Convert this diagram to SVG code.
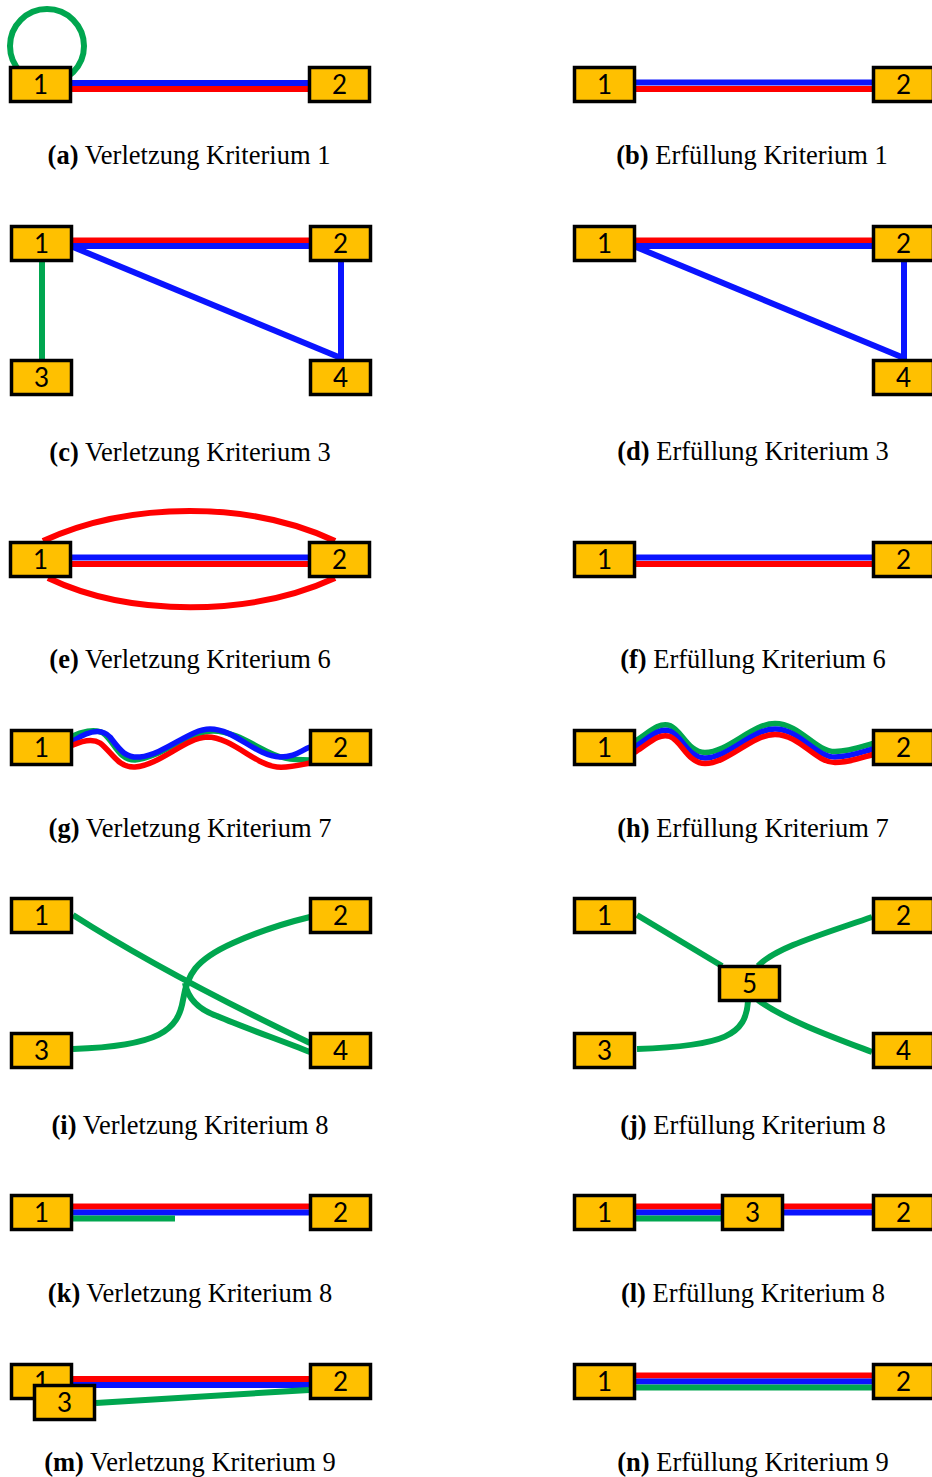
<svg xmlns="http://www.w3.org/2000/svg" width="932" height="1477" viewBox="0 0 932 1477">
  <style>
    .node rect { fill: #FFC000; stroke: #000; stroke-width: 3.5; }
    .node text { font-family: Lato, "Open Sans", sans-serif; font-size: 26px; text-anchor: middle; fill: #000; }
    .e { fill: none; stroke-width: 6; }
    .r { stroke: #FF0000; }
    .b { stroke: #0A14FF; }
    .g { stroke: #00A64F; }
    .w { stroke-width: 5.5; stroke-linecap: round; }
    .cap { font-family: "Liberation Serif", "Times New Roman", serif; font-size: 26.5px; text-anchor: middle; fill: #000; }
    .cap tspan { font-weight: bold; }
  </style>
  <rect width="932" height="1477" fill="#fff"/>

  <!-- connectors -->
  <g id="connectors">
    <!-- (a) -->
    <circle class="e g" cx="47" cy="46" r="37" stroke-width="4.5"/>
    <line class="e b" x1="72" y1="83" x2="308" y2="83"/>
    <line class="e r" x1="72" y1="89" x2="308" y2="89"/>
    <!-- (b) -->
    <line class="e b" x1="636" y1="82.5" x2="872" y2="82.5"/>
    <line class="e r" x1="636" y1="89" x2="872" y2="89"/>
    <!-- (c) -->
    <line class="e r" x1="73" y1="240.5" x2="309" y2="240.5"/>
    <line class="e b" x1="73" y1="246" x2="309" y2="246"/>
    <line class="e b" x1="73" y1="247" x2="341" y2="358" stroke-width="5"/>
    <line class="e b" x1="341" y1="262" x2="341" y2="359" stroke-width="5"/>
    <line class="e g" x1="42" y1="262" x2="42" y2="359" stroke-width="5"/>
    <!-- (d) -->
    <line class="e r" x1="636" y1="240.5" x2="872" y2="240.5"/>
    <line class="e b" x1="636" y1="246" x2="872" y2="246"/>
    <line class="e b" x1="636" y1="247" x2="904" y2="358" stroke-width="5"/>
    <line class="e b" x1="904" y1="262" x2="904" y2="359" stroke-width="5"/>
    <!-- (e) -->
    <line class="e b" x1="72" y1="557.5" x2="308" y2="557.5"/>
    <line class="e r" x1="72" y1="564" x2="308" y2="564"/>
    <path class="e r" d="M43,541 C130,501 250,501 335,541" stroke-width="5.5"/>
    <path class="e r" d="M48,578 C130,617 250,617 335,578" stroke-width="5.5"/>
    <!-- (f) -->
    <line class="e b" x1="636" y1="557.5" x2="872" y2="557.5"/>
    <line class="e r" x1="636" y1="564" x2="872" y2="564"/>
    <!-- (g) -->
    <path class="e g w" d="M73,736 C80,732 95,728 103,733 C115,742 118,760 135,760 C160,758 190,731 213,731 C240,731 265,755 285,758 C295,760 303,760 310,760"/>
    <path class="e b w" d="M73,741 C85,733 100,726 110,737 C120,750 125,758 140,757 C165,754 190,729 210,729 C235,729 255,756 280,757 C295,757 300,751 310,747"/>
    <path class="e r w" d="M73,745 C82,741 92,738 100,743 C112,752 118,768 135,767 C160,765 185,738 207,737 C232,737 255,765 277,767 C290,768 300,765 310,763"/>
    <!-- (h): three parallel copies of one wave -->
    <g transform="translate(0,-5.5)">
      <path class="e g w" d="M636,746 C648,739 658,727 670,731 C682,736 688,758 705,758 C728,758 752,729 775,729 C800,729 815,757 835,757 C850,757 862,752 873,749"/>
    </g>
    <path class="e b w" d="M636,746 C648,739 658,727 670,731 C682,736 688,758 705,758 C728,758 752,729 775,729 C800,729 815,757 835,757 C850,757 862,752 873,749"/>
    <g transform="translate(0,5.5)">
      <path class="e r w" d="M636,746 C648,739 658,727 670,731 C682,736 688,758 705,758 C728,758 752,729 775,729 C800,729 815,757 835,757 C850,757 862,752 873,749"/>
    </g>
    <!-- (i) -->
    <path class="e g" stroke-width="5" d="M73,915 C140,958 220,1000 310,1043"/>
    <path class="e g" stroke-width="5" d="M73,1049 C160,1046 178,1030 183,1000 C187,975 195,960 233,943 C260,931 285,923 310,917"/>
    <path class="e g" stroke-width="5" d="M185,983 C188,1000 200,1010 217,1016 C245,1028 280,1040 310,1052"/>
    <!-- (j) -->
    <path class="e g" stroke-width="5" d="M637,915 L722,966"/>
    <path class="e g" stroke-width="5" d="M872,917 C820,935 775,948 758,966"/>
    <path class="e g" stroke-width="5" d="M637,1049 C725,1046 746,1035 748,1001"/>
    <path class="e g" stroke-width="5" d="M758,1000 C785,1020 835,1038 872,1052"/>
    <!-- (k) -->
    <line class="e r" x1="73" y1="1206.5" x2="309" y2="1206.5"/>
    <line class="e b" x1="73" y1="1212.5" x2="309" y2="1212.5"/>
    <line class="e g" x1="73" y1="1218.5" x2="175" y2="1218.5"/>
    <!-- (l) -->
    <line class="e r" x1="636" y1="1206.5" x2="872" y2="1206.5"/>
    <line class="e b" x1="636" y1="1212.5" x2="872" y2="1212.5"/>
    <line class="e g" x1="636" y1="1218.5" x2="721" y2="1218.5"/>
    <!-- (m) -->
    <line class="e r" x1="73" y1="1379" x2="309" y2="1379"/>
    <line class="e b" x1="73" y1="1385" x2="309" y2="1385"/>
    <line class="e g" x1="96" y1="1403" x2="309" y2="1390" stroke-width="5"/>
    <!-- (n) -->
    <line class="e r" x1="636" y1="1375.5" x2="872" y2="1375.5"/>
    <line class="e b" x1="636" y1="1381.5" x2="872" y2="1381.5"/>
    <line class="e g" x1="636" y1="1387.5" x2="872" y2="1387.5"/>
  </g>

  <!-- (a) -->
  <g id="a-n1" class="node" transform="translate(9,66)"><rect x="1.5" y="1.5" width="60" height="34"/><text x="31.5" y="28">1</text></g>
  <g id="a-n2" class="node" transform="translate(308,66)"><rect x="1.5" y="1.5" width="60" height="34"/><text x="31.5" y="28">2</text></g>
  <!-- (b) -->
  <g id="b-n1" class="node" transform="translate(573,66)"><rect x="1.5" y="1.5" width="60" height="34"/><text x="31.5" y="28">1</text></g>
  <g id="b-n2" class="node" transform="translate(872,66)"><rect x="1.5" y="1.5" width="60" height="34"/><text x="31.5" y="28">2</text></g>
  <!-- (c) -->
  <g id="c-n1" class="node" transform="translate(10,225)"><rect x="1.5" y="1.5" width="60" height="34"/><text x="31.5" y="28">1</text></g>
  <g id="c-n2" class="node" transform="translate(309,225)"><rect x="1.5" y="1.5" width="60" height="34"/><text x="31.5" y="28">2</text></g>
  <g id="c-n3" class="node" transform="translate(10,359)"><rect x="1.5" y="1.5" width="60" height="34"/><text x="31.5" y="28">3</text></g>
  <g id="c-n4" class="node" transform="translate(309,359)"><rect x="1.5" y="1.5" width="60" height="34"/><text x="31.5" y="28">4</text></g>
  <!-- (d) -->
  <g id="d-n1" class="node" transform="translate(573,225)"><rect x="1.5" y="1.5" width="60" height="34"/><text x="31.5" y="28">1</text></g>
  <g id="d-n2" class="node" transform="translate(872,225)"><rect x="1.5" y="1.5" width="60" height="34"/><text x="31.5" y="28">2</text></g>
  <g id="d-n4" class="node" transform="translate(872,359)"><rect x="1.5" y="1.5" width="60" height="34"/><text x="31.5" y="28">4</text></g>
  <!-- (e) -->
  <g id="e-n1" class="node" transform="translate(9,541)"><rect x="1.5" y="1.5" width="60" height="34"/><text x="31.5" y="28">1</text></g>
  <g id="e-n2" class="node" transform="translate(308,541)"><rect x="1.5" y="1.5" width="60" height="34"/><text x="31.5" y="28">2</text></g>
  <!-- (f) -->
  <g id="f-n1" class="node" transform="translate(573,541)"><rect x="1.5" y="1.5" width="60" height="34"/><text x="31.5" y="28">1</text></g>
  <g id="f-n2" class="node" transform="translate(872,541)"><rect x="1.5" y="1.5" width="60" height="34"/><text x="31.5" y="28">2</text></g>
  <!-- (g) -->
  <g id="g-n1" class="node" transform="translate(10,729)"><rect x="1.5" y="1.5" width="60" height="34"/><text x="31.5" y="28">1</text></g>
  <g id="g-n2" class="node" transform="translate(309,729)"><rect x="1.5" y="1.5" width="60" height="34"/><text x="31.5" y="28">2</text></g>
  <!-- (h) -->
  <g id="h-n1" class="node" transform="translate(573,729)"><rect x="1.5" y="1.5" width="60" height="34"/><text x="31.5" y="28">1</text></g>
  <g id="h-n2" class="node" transform="translate(872,729)"><rect x="1.5" y="1.5" width="60" height="34"/><text x="31.5" y="28">2</text></g>
  <!-- (i) -->
  <g id="i-n1" class="node" transform="translate(10,897)"><rect x="1.5" y="1.5" width="60" height="34"/><text x="31.5" y="28">1</text></g>
  <g id="i-n2" class="node" transform="translate(309,897)"><rect x="1.5" y="1.5" width="60" height="34"/><text x="31.5" y="28">2</text></g>
  <g id="i-n3" class="node" transform="translate(10,1032)"><rect x="1.5" y="1.5" width="60" height="34"/><text x="31.5" y="28">3</text></g>
  <g id="i-n4" class="node" transform="translate(309,1032)"><rect x="1.5" y="1.5" width="60" height="34"/><text x="31.5" y="28">4</text></g>
  <!-- (j) -->
  <g id="j-n1" class="node" transform="translate(573,897)"><rect x="1.5" y="1.5" width="60" height="34"/><text x="31.5" y="28">1</text></g>
  <g id="j-n2" class="node" transform="translate(872,897)"><rect x="1.5" y="1.5" width="60" height="34"/><text x="31.5" y="28">2</text></g>
  <g id="j-n3" class="node" transform="translate(573,1032)"><rect x="1.5" y="1.5" width="60" height="34"/><text x="31.5" y="28">3</text></g>
  <g id="j-n4" class="node" transform="translate(872,1032)"><rect x="1.5" y="1.5" width="60" height="34"/><text x="31.5" y="28">4</text></g>
  <g id="j-n5" class="node" transform="translate(718,965)"><rect x="1.5" y="1.5" width="60" height="34"/><text x="31.5" y="28">5</text></g>
  <!-- (k) -->
  <g id="k-n1" class="node" transform="translate(10,1194)"><rect x="1.5" y="1.5" width="60" height="34"/><text x="31.5" y="28">1</text></g>
  <g id="k-n2" class="node" transform="translate(309,1194)"><rect x="1.5" y="1.5" width="60" height="34"/><text x="31.5" y="28">2</text></g>
  <!-- (l) -->
  <g id="l-n1" class="node" transform="translate(573,1194)"><rect x="1.5" y="1.5" width="60" height="34"/><text x="31.5" y="28">1</text></g>
  <g id="l-n3" class="node" transform="translate(721,1194)"><rect x="1.5" y="1.5" width="60" height="34"/><text x="31.5" y="28">3</text></g>
  <g id="l-n2" class="node" transform="translate(872,1194)"><rect x="1.5" y="1.5" width="60" height="34"/><text x="31.5" y="28">2</text></g>
  <!-- (m) -->
  <g id="m-n1" class="node" transform="translate(10,1363)"><rect x="1.5" y="1.5" width="60" height="34"/><text x="31.5" y="28">1</text></g>
  <g id="m-n3" class="node" transform="translate(33,1384)"><rect x="1.5" y="1.5" width="60" height="34"/><text x="31.5" y="28">3</text></g>
  <g id="m-n2" class="node" transform="translate(309,1363)"><rect x="1.5" y="1.5" width="60" height="34"/><text x="31.5" y="28">2</text></g>
  <!-- (n) -->
  <g id="n-n1" class="node" transform="translate(573,1363)"><rect x="1.5" y="1.5" width="60" height="34"/><text x="31.5" y="28">1</text></g>
  <g id="n-n2" class="node" transform="translate(872,1363)"><rect x="1.5" y="1.5" width="60" height="34"/><text x="31.5" y="28">2</text></g>

  <!-- sub-figure captions -->
  <g id="captions">
    <text class="cap" x="189" y="164"><tspan>(a)</tspan> Verletzung Kriterium 1</text>
    <text class="cap" x="752" y="164"><tspan>(b)</tspan> Erfüllung Kriterium 1</text>
    <text class="cap" x="190" y="461"><tspan>(c)</tspan> Verletzung Kriterium 3</text>
    <text class="cap" x="753" y="460"><tspan>(d)</tspan> Erfüllung Kriterium 3</text>
    <text class="cap" x="190" y="668"><tspan>(e)</tspan> Verletzung Kriterium 6</text>
    <text class="cap" x="753" y="668"><tspan>(f)</tspan> Erfüllung Kriterium 6</text>
    <text class="cap" x="190" y="837"><tspan>(g)</tspan> Verletzung Kriterium 7</text>
    <text class="cap" x="753" y="837"><tspan>(h)</tspan> Erfüllung Kriterium 7</text>
    <text class="cap" x="190" y="1134"><tspan>(i)</tspan> Verletzung Kriterium 8</text>
    <text class="cap" x="753" y="1134"><tspan>(j)</tspan> Erfüllung Kriterium 8</text>
    <text class="cap" x="190" y="1302"><tspan>(k)</tspan> Verletzung Kriterium 8</text>
    <text class="cap" x="753" y="1302"><tspan>(l)</tspan> Erfüllung Kriterium 8</text>
    <text class="cap" x="190" y="1471"><tspan>(m)</tspan> Verletzung Kriterium 9</text>
    <text class="cap" x="753" y="1471"><tspan>(n)</tspan> Erfüllung Kriterium 9</text>
  </g>
</svg>
